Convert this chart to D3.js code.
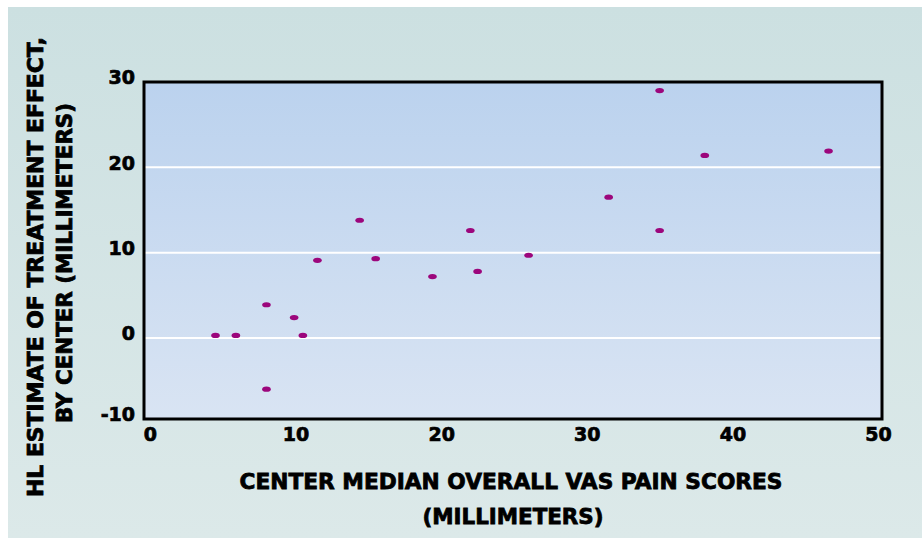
<!DOCTYPE html>
<html>
<head>
<meta charset="utf-8">
<script src="https://cdn.jsdelivr.net/npm/d3@7"></script>
<style>
body { margin: 0; background: #fff; }
text { font-family: "DejaVu Sans", sans-serif; font-weight: bold; fill: #000; }
</style>
</head>
<body>
<div id="chart"></div>
<script>
// center median VAS (mm) vs HL estimate of treatment effect (mm)
const vas = [4.5, 5.9, 8.0, 8.0, 9.9, 10.5, 11.5, 14.4, 15.5, 19.4, 22.0, 22.5, 26.0, 31.5, 35.0, 35.0, 38.1, 46.6];
const hl  = [0.3, 0.3, 3.9, -6.0, 2.4, 0.3, 9.1, 13.8, 9.3, 7.2, 12.6, 7.8, 9.7, 16.5, 29.0, 12.6, 21.4, 21.9];
const xTicks = [0, 10, 20, 30, 40, 50];
const yTicks = [-10, 0, 10, 20, 30];
const gridVals = [0, 10, 20];
const xTitle = ['CENTER MEDIAN OVERALL VAS PAIN SCORES', '(MILLIMETERS)'];
const yTitle = ['HL ESTIMATE OF TREATMENT EFFECT,', 'BY CENTER (MILLIMETERS)'];

const width = 922, height = 540;
const svg = d3.select('#chart').append('svg')
  .attr('width', width).attr('height', height);

const defs = svg.append('defs');
function vgrad(id, c0, c1) {
  const g = defs.append('linearGradient').attr('id', id)
    .attr('x1', 0).attr('y1', 0).attr('x2', 0).attr('y2', 1);
  g.append('stop').attr('offset', '0%').attr('stop-color', c0);
  g.append('stop').attr('offset', '100%').attr('stop-color', c1);
}
vgrad('panel', '#cce0e1', '#dce9e9');
vgrad('plot', '#bbd2ee', '#d9e4f3');

svg.append('rect').attr('x', 8).attr('y', 7).attr('width', width - 8).attr('height', 531)
  .attr('fill', 'url(#panel)');

const x = d3.scaleLinear().domain([-0.41, 50.27]).range([144, 882]).clamp(true);
const y = d3.scaleLinear().domain([-9.49, 30]).range([419, 82]).clamp(true);

const [x0, x1] = x.range();
const [y0, y1] = y.range();

svg.append('rect').attr('x', x0).attr('y', y1).attr('width', x1 - x0).attr('height', y0 - y1)
  .attr('fill', 'url(#plot)');

svg.append('g').selectAll('line').data(gridVals).enter().append('line')
  .attr('x1', x0).attr('x2', x1)
  .attr('y1', d => y(d)).attr('y2', d => y(d))
  .attr('stroke', '#fff').attr('stroke-width', 2);

svg.append('g').selectAll('ellipse').data(vas).enter().append('ellipse')
  .attr('cx', d => x(d)).attr('cy', (d, i) => y(hl[i]))
  .attr('rx', 4.3).attr('ry', 2.6)
  .attr('fill', '#9c067c');

svg.append('rect').attr('x', x0).attr('y', y1).attr('width', x1 - x0).attr('height', y0 - y1)
  .attr('fill', 'none').attr('stroke', '#000').attr('stroke-width', 3);

// axes: labels only, no tick marks; plain hyphen for negatives
const fmt = d => String(d);
const xAxis = svg.append('g').attr('transform', 'translate(0,' + y0 + ')')
  .call(d3.axisBottom(x).tickValues(xTicks).tickFormat(fmt).tickSize(0).tickPadding(9));
const yAxis = svg.append('g').attr('transform', 'translate(' + x0 + ',0)')
  .call(d3.axisLeft(y).tickValues(yTicks).tickFormat(fmt).tickSize(0).tickPadding(9));
[xAxis, yAxis].forEach(a => {
  a.select('.domain').remove();
  a.selectAll('text').attr('font-family', '"DejaVu Sans", sans-serif')
    .attr('font-weight', 'bold').attr('font-size', 19).attr('fill', '#000')
    .attr('stroke', '#000').attr('stroke-width', 0.7);
});
yAxis.selectAll('text').attr('dy', '0.1em');

// axis titles
function title(sel) {
  return sel.attr('font-size', 22).attr('stroke', '#000').attr('stroke-width', 0.8)
    .attr('lengthAdjust', 'spacingAndGlyphs').attr('text-anchor', 'middle');
}
svg.append('text').attr('x', 511).attr('y', 489).call(title)
  .attr('textLength', 543).text(xTitle[0]);
svg.append('text').attr('x', 513).attr('y', 524).call(title)
  .attr('textLength', 181).text(xTitle[1]);

svg.append('text').attr('transform', 'translate(43,267) rotate(-90)').call(title)
  .attr('font-size', 21).attr('textLength', 460).text(yTitle[0]);
svg.append('text').attr('transform', 'translate(72,263) rotate(-90)').call(title)
  .attr('font-size', 21).attr('textLength', 320).text(yTitle[1]);
</script>
</body>
</html>
